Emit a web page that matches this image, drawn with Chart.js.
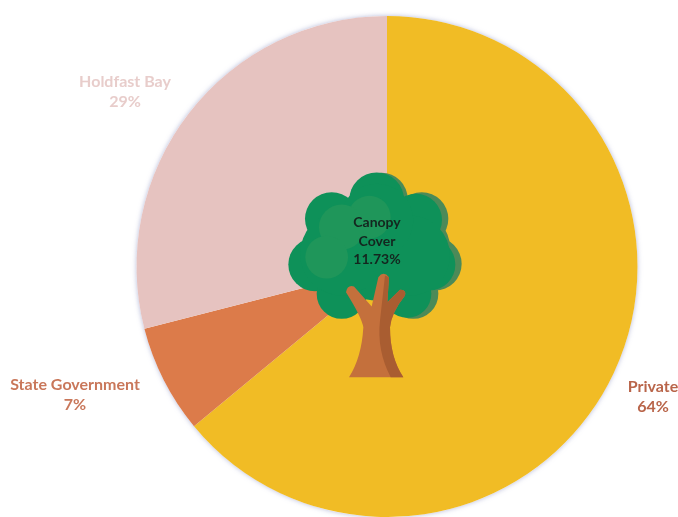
<!DOCTYPE html>
<html>
<head>
<meta charset="utf-8">
<style>
    html, body { margin: 0; padding: 0; background: #fff; }
    #wrap { width: 678px; height: 517px; }
    #pie { filter: blur(0.4px); }
</style>
<script src="https://cdn.jsdelivr.net/npm/chart.js@4/dist/chart.umd.min.js"></script>
</head>
<body>
<div id="wrap"><canvas id="pie" width="678" height="517"></canvas></div>
<script>
const categories = ['Private', 'State Government', 'Holdfast Bay'];
const shares = [64, 7, 29];
const sliceColors = ['#f1bc25', '#dc7b4a', '#e6c3c0'];
const labelColors = ['#b9654a', '#c9775a', '#e8cdcb'];
const centerLines = ['Canopy', 'Cover', '11.73%'];

// label anchor per category, offset from the pie centre
const labelOffsets = [[266, 120], [-312, 118], [-262, -185]];
const FONT = '"Lato", "Open Sans", sans-serif';

// soft bluish edge the scan leaves around the pie
const haloPlugin = {
    id: 'halo',
    beforeDatasetsDraw(chart) {
        const arc = chart.getDatasetMeta(0).data[0];
        const ctx = chart.ctx;
        ctx.save();
        ctx.shadowColor = 'rgba(150, 155, 200, 0.7)';
        ctx.shadowBlur = 5;
        ctx.fillStyle = '#fff';
        ctx.beginPath();
        ctx.arc(arc.x, arc.y, arc.outerRadius, 0, Math.PI * 2);
        ctx.fill();
        ctx.restore();
    }
};

function lobes(ctx, list, color) {
    ctx.fillStyle = color;
    list.forEach(([x, y, r]) => {
        ctx.beginPath();
        ctx.arc(x, y, r, 0, Math.PI * 2);
        ctx.fill();
    });
}

// tree picture; units are 1/3 px, origin at the crown/trunk reference point
function drawTree(ctx, cx, cy) {
    ctx.save();
    ctx.translate(cx, cy);
    ctx.scale(1 / 3, 1 / 3);
    ctx.translate(-351, -318);

    lobes(ctx, [
        [335, 115, 78], [455, 175, 80], [495, 310, 80], [430, 400, 75], [440, 260, 100]
    ], '#4c8a58');
    lobes(ctx, [
        [320, 118, 82], [185, 175, 80], [438, 178, 78], [135, 312, 80], [478, 312, 78],
        [215, 400, 75], [412, 400, 72], [320, 270, 150], [215, 280, 125], [420, 285, 120],
        [320, 180, 110]
    ], '#0e9159');
    lobes(ctx, [[298, 170, 64], [215, 200, 68], [170, 290, 64]], '#1f965a');

    // trunk
    ctx.fillStyle = '#c4703c';
    ctx.beginPath();
    ctx.moveTo(237, 650);
    ctx.quadraticCurveTo(275, 590, 280, 500);
    ctx.quadraticCurveTo(275, 470, 228, 395);
    ctx.quadraticCurveTo(232, 372, 252, 378);
    ctx.lineTo(305, 438);
    ctx.lineTo(325, 350);
    ctx.quadraticCurveTo(340, 330, 357, 350);
    ctx.lineTo(352, 425);
    ctx.lineTo(390, 388);
    ctx.quadraticCurveTo(410, 388, 405, 405);
    ctx.quadraticCurveTo(365, 455, 360, 500);
    ctx.quadraticCurveTo(360, 590, 400, 650);
    ctx.closePath();
    ctx.fill();

    // shaded side of the trunk
    ctx.fillStyle = '#a95d31';
    ctx.beginPath();
    ctx.moveTo(362, 650);
    ctx.quadraticCurveTo(320, 570, 330, 480);
    ctx.lineTo(345, 345);
    ctx.lineTo(357, 350);
    ctx.lineTo(352, 425);
    ctx.lineTo(390, 388);
    ctx.quadraticCurveTo(410, 388, 405, 405);
    ctx.quadraticCurveTo(365, 455, 360, 500);
    ctx.quadraticCurveTo(360, 590, 400, 650);
    ctx.closePath();
    ctx.fill();
    ctx.restore();
}

const annotationPlugin = {
    id: 'annotations',
    afterDatasetsDraw(chart) {
        const arc = chart.getDatasetMeta(0).data[0];
        const ctx = chart.ctx;
        drawTree(ctx, arc.x, arc.y);

        ctx.save();
        ctx.textAlign = 'center';
        ctx.textBaseline = 'middle';

        ctx.font = 'bold 16px ' + FONT;
        categories.forEach((name, i) => {
            const [dx, dy] = labelOffsets[i];
            ctx.fillStyle = labelColors[i];
            ctx.fillText(name, arc.x + dx, arc.y + dy);
            ctx.fillText(shares[i] + '%', arc.x + dx, arc.y + dy + 20);
        });

        ctx.font = 'bold 14px ' + FONT;
        ctx.fillStyle = '#14261f';
        centerLines.forEach((line, i) => {
            ctx.fillText(line, arc.x - 10, arc.y - 44 + i * 18.5);
        });
        ctx.restore();
    }
};

new Chart(document.getElementById('pie').getContext('2d'), {
    type: 'pie',
    data: {
        labels: categories,
        datasets: [{
            data: shares,
            backgroundColor: sliceColors,
            borderWidth: 0
        }]
    },
    options: {
        responsive: false,
        animation: false,
        layout: { padding: { left: 136, right: 40, top: 16, bottom: 0 } },
        plugins: {
            legend: { display: false },
            tooltip: { enabled: false }
        }
    },
    plugins: [haloPlugin, annotationPlugin]
});
</script>
</body>
</html>
